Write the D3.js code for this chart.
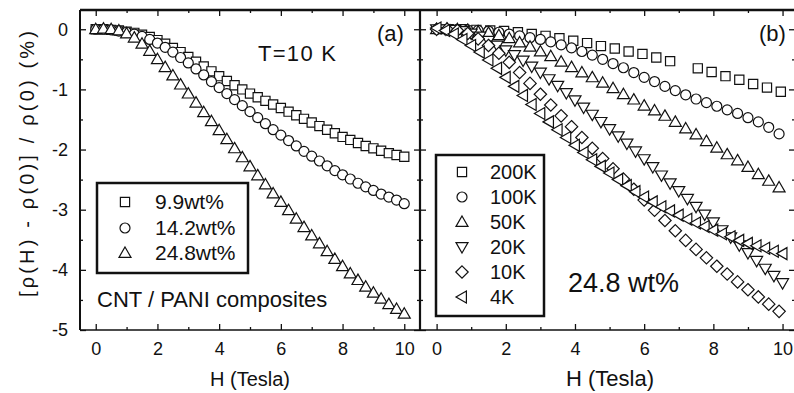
<!DOCTYPE html>
<html>
<head>
<meta charset="utf-8">
<script src="https://cdn.jsdelivr.net/npm/d3@7"></script>
<style>
  body { margin: 0; background: #fff; }
  svg { display: block; }
  text { font-family: "Liberation Sans", Arial, sans-serif; fill: #111; }
</style>
</head>
<body>
<svg id="chart" width="794" height="393"></svg>
<script>
// ---- data: field H (Tesla) and MR in % ----
const hStep25 = [0,0.25,0.5,0.75,1,1.25,1.5,1.75,2,2.25,2.5,2.75,3,3.25,3.5,3.75,4,4.25,4.5,4.75,5,
  5.25,5.5,5.75,6,6.25,6.5,6.75,7,7.25,7.5,7.75,8,8.25,8.5,8.75,9,9.25,9.5,9.75,10];
const hStep30 = [0,0.3,0.6,0.9,1.2,1.5,1.8,2.1,2.4,2.7,3,3.3,3.6,3.9,4.2,4.5,4.8,5.1,5.4,5.7,6,
  6.3,6.6,6.9,7.2,7.5,7.8,8.1,8.4,8.7,9,9.3,9.6,9.9];
const h200K = [0.35,0.75,1.15,1.55,1.95,2.35,2.75,3.15,3.55,3.95,4.35,4.75,5.15,5.55,5.95,6.35,6.75,
  7.55,7.95,8.35,8.75,9.15,9.55,9.95];

// panel (a), T = 10 K
const wt99 = [0,0,-0.01,-0.02,-0.04,-0.06,-0.09,-0.13,-0.18,-0.24,-0.31,-0.38,-0.46,-0.54,-0.62,-0.70,
  -0.78,-0.86,-0.93,-1.00,-1.07,-1.13,-1.19,-1.25,-1.31,-1.37,-1.43,-1.49,-1.55,-1.61,-1.67,-1.73,
  -1.79,-1.84,-1.89,-1.94,-1.98,-2.02,-2.06,-2.09,-2.12];
const wt142 = [0,0,-0.01,-0.03,-0.05,-0.08,-0.12,-0.17,-0.23,-0.30,-0.38,-0.47,-0.56,-0.66,-0.76,-0.87,
  -0.97,-1.07,-1.17,-1.27,-1.37,-1.47,-1.57,-1.67,-1.76,-1.85,-1.94,-2.03,-2.11,-2.19,-2.27,-2.35,
  -2.42,-2.49,-2.56,-2.62,-2.68,-2.74,-2.79,-2.84,-2.90];
const wt248 = [0,0.01,0,-0.02,-0.07,-0.14,-0.24,-0.36,-0.50,-0.63,-0.77,-0.92,-1.07,-1.22,-1.38,-1.53,
  -1.68,-1.83,-1.98,-2.13,-2.28,-2.43,-2.58,-2.73,-2.87,-3.01,-3.15,-3.29,-3.43,-3.56,-3.69,-3.82,
  -3.94,-4.06,-4.17,-4.28,-4.38,-4.48,-4.57,-4.65,-4.73];

// panel (b), 24.8 wt%
const k200 = [0,0,-0.01,-0.02,-0.03,-0.05,-0.08,-0.11,-0.15,-0.19,-0.23,-0.28,-0.32,-0.37,-0.41,-0.47,
  -0.53,-0.65,-0.71,-0.78,-0.84,-0.91,-0.97,-1.04];
const k100 = [0,0,0,-0.01,-0.02,-0.03,-0.05,-0.08,-0.11,-0.14,-0.17,-0.21,-0.26,-0.31,-0.37,-0.43,
  -0.50,-0.57,-0.64,-0.72,-0.80,-0.87,-0.95,-1.02,-1.09,-1.16,-1.22,-1.28,-1.34,-1.40,-1.47,-1.54,
  -1.63,-1.74];
const k50 = [0,0.01,0,-0.01,-0.04,-0.06,-0.10,-0.15,-0.22,-0.29,-0.37,-0.45,-0.54,-0.63,-0.72,-0.80,
  -0.89,-0.98,-1.08,-1.17,-1.27,-1.35,-1.44,-1.54,-1.65,-1.75,-1.86,-1.97,-2.08,-2.18,-2.29,-2.41,
  -2.52,-2.63];
const k20 = [0,0,-0.01,-0.03,-0.07,-0.12,-0.19,-0.27,-0.35,-0.43,-0.52,-0.62,-0.72,-0.83,-0.94,-1.06,
  -1.18,-1.30,-1.42,-1.54,-1.66,-1.78,-1.90,-2.03,-2.16,-2.29,-2.43,-2.56,-2.69,-2.82,-2.95,-3.08,
  -3.21,-3.34,-3.46,-3.59,-3.72,-3.85,-3.98,-4.10,-4.22];
const k10 = [0,0,-0.02,-0.07,-0.16,-0.27,-0.40,-0.55,-0.72,-0.90,-1.08,-1.26,-1.44,-1.62,-1.80,-1.98,
  -2.15,-2.32,-2.49,-2.66,-2.84,-3.01,-3.18,-3.35,-3.51,-3.66,-3.80,-3.94,-4.07,-4.20,-4.33,-4.45,
  -4.57,-4.69];
const k4 = [0.02,-0.02,-0.08,-0.17,-0.27,-0.38,-0.51,-0.65,-0.80,-0.95,-1.10,-1.25,-1.40,-1.54,-1.67,
  -1.80,-1.93,-2.05,-2.17,-2.28,-2.39,-2.50,-2.60,-2.70,-2.79,-2.87,-2.95,-3.02,-3.09,-3.16,-3.22,
  -3.28,-3.34,-3.40,-3.45,-3.51,-3.56,-3.60,-3.64,-3.69,-3.73];

const xMajor = [0, 2, 4, 6, 8, 10];
const xMinor = [1, 3, 5, 7, 9];
const yMajor = [0, -1, -2, -3, -4, -5];
const yMinor = [-0.5, -1.5, -2.5, -3.5, -4.5];

const seriesA = [
  { name: '9.9wt%', shape: 'square', h: hStep25, v: wt99 },
  { name: '14.2wt%', shape: 'circle', h: hStep25, v: wt142 },
  { name: '24.8wt%', shape: 'up', h: hStep25, v: wt248 }
];
const seriesB = [
  { name: '200K', shape: 'square', h: h200K, v: k200 },
  { name: '100K', shape: 'circle', h: hStep30, v: k100 },
  { name: '50K', shape: 'up', h: hStep30, v: k50 },
  { name: '20K', shape: 'down', h: hStep25, v: k20 },
  { name: '10K', shape: 'diamond', h: hStep30, v: k10 },
  { name: '4K', shape: 'left', h: hStep25, v: k4 }
];

// ---- layout ----
const plotTop = 10, plotBottom = 330;
const svg = d3.select('#chart');

const y = d3.scaleLinear().domain([-5, 0.32]).range([plotBottom, plotTop]);
const xA = d3.scaleLinear().domain([-0.51, 10.51]).range([80, 420]);
const xB = d3.scaleLinear().domain([-0.48, 10.36]).range([420, 795]);

function markerPath(shape) {
  switch (shape) {
    case 'square': return 'M-4.6,-4.6H4.6V4.6H-4.6Z';
    case 'circle': return 'M5,0A5,5 0 1,1 -5,0A5,5 0 1,1 5,0Z';
    case 'up': return 'M0,-6L6,4.4L-6,4.4Z';
    case 'down': return 'M0,6L6,-4.4L-6,-4.4Z';
    case 'left': return 'M-6,0L4.4,-6L4.4,6Z';
    case 'diamond': return 'M0,-6.2L6.2,0L0,6.2L-6.2,0Z';
  }
}

function styleAxis(g) {
  g.select('.domain').remove();
  g.selectAll('line').attr('stroke', '#111').attr('stroke-width', 1.3);
  g.selectAll('text').attr('font-size', 18).attr('font-family', null).attr('fill', '#111');
}

function drawAxes(x, left, right, yLabels) {
  svg.append('g').attr('transform', `translate(0,${plotBottom})`)
    .call(d3.axisBottom(x).tickValues(xMajor).tickSize(-6).tickPadding(12).tickFormat(d3.format('d')))
    .call(styleAxis);
  svg.append('g').attr('transform', `translate(0,${plotBottom})`)
    .call(d3.axisBottom(x).tickValues(xMinor).tickSize(-3).tickFormat(''))
    .call(styleAxis);
  svg.append('g').attr('transform', `translate(0,${plotTop})`)
    .call(d3.axisTop(x).tickValues(xMajor).tickSize(-6).tickFormat(''))
    .call(styleAxis);
  svg.append('g').attr('transform', `translate(0,${plotTop})`)
    .call(d3.axisTop(x).tickValues(xMinor).tickSize(-3).tickFormat(''))
    .call(styleAxis);

  svg.append('g').attr('transform', `translate(${left},0)`)
    .call(d3.axisLeft(y).tickValues(yMajor).tickSize(-6).tickPadding(12)
      .tickFormat(yLabels ? (d => String(d)) : ''))
    .call(styleAxis);
  svg.append('g').attr('transform', `translate(${left},0)`)
    .call(d3.axisLeft(y).tickValues(yMinor).tickSize(-3).tickFormat(''))
    .call(styleAxis);
  svg.append('g').attr('transform', `translate(${right},0)`)
    .call(d3.axisRight(y).tickValues(yMajor).tickSize(-6).tickFormat(''))
    .call(styleAxis);
  svg.append('g').attr('transform', `translate(${right},0)`)
    .call(d3.axisRight(y).tickValues(yMinor).tickSize(-3).tickFormat(''))
    .call(styleAxis);
}

function drawSeries(x, series) {
  series.forEach(s => {
    const pts = s.h.map((h, i) => [h, s.v[i]]);
    svg.append('g')
      .selectAll('path')
      .data(pts)
      .join('path')
        .attr('transform', d => `translate(${x(d[0])},${y(d[1])})`)
        .attr('d', markerPath(s.shape))
        .attr('fill', '#fff')
        .attr('stroke', '#111')
        .attr('stroke-width', 1.2);
  });
}

function drawLegend(series, box, mx, tx, rows, fontSize) {
  svg.append('rect')
    .attr('x', box[0]).attr('y', box[1])
    .attr('width', box[2]).attr('height', box[3])
    .attr('fill', '#fff').attr('stroke', '#111').attr('stroke-width', 2.5);
  series.forEach((s, i) => {
    svg.append('path')
      .attr('transform', `translate(${mx},${rows[i]})`)
      .attr('d', markerPath(s.shape))
      .attr('fill', '#fff').attr('stroke', '#111').attr('stroke-width', 1.2);
    svg.append('text')
      .attr('x', tx).attr('y', rows[i] + 7)
      .attr('font-size', fontSize)
      .text(s.name);
  });
}

// ---- draw ----
drawAxes(xA, 80, 420, true);
drawAxes(xB, 420, 795, false);

drawSeries(xA, seriesA);
drawSeries(xB, seriesB);

// frame
svg.append('g')
  .attr('stroke', '#111')
  .selectAll('line')
  .data([
    [80, plotTop, 794, plotTop, 2.6],
    [80, plotTop, 80, plotBottom, 2],
    [420, plotTop, 420, plotBottom, 2.2],
    [80, plotBottom, 794, plotBottom, 1.6]
  ])
  .join('line')
    .attr('x1', d => d[0]).attr('y1', d => d[1])
    .attr('x2', d => d[2]).attr('y2', d => d[3])
    .attr('stroke-width', d => d[4]);

drawLegend(seriesA, [97, 183, 151, 90], 125, 155, [202, 228, 253], 21);
drawLegend(seriesB, [436, 155, 108, 161], 462, 490, [172, 197, 222, 247, 272, 297], 20);

// annotations
svg.append('text').attr('x', 258).attr('y', 61).attr('font-size', 22)
  .attr('textLength', 78).attr('lengthAdjust', 'spacing').text('T=10 K');
svg.append('text').attr('x', 377).attr('y', 41).attr('font-size', 22).text('(a)');
svg.append('text').attr('x', 759).attr('y', 41).attr('font-size', 22).text('(b)');
svg.append('text').attr('x', 97).attr('y', 307).attr('font-size', 22).text('CNT / PANI composites');
svg.append('text').attr('x', 568).attr('y', 292).attr('font-size', 27).text('24.8 wt%');

// axis titles
svg.append('text').attr('x', 250).attr('y', 386).attr('text-anchor', 'middle')
  .attr('font-size', 20).text('H (Tesla)');
svg.append('text').attr('x', 610).attr('y', 386).attr('text-anchor', 'middle')
  .attr('font-size', 22).text('H (Tesla)');
svg.append('text')
  .attr('transform', 'translate(34,164) rotate(-90)')
  .attr('text-anchor', 'middle')
  .attr('font-size', 20)
  .attr('textLength', 266).attr('lengthAdjust', 'spacing')
  .text('[ρ(H) - ρ(0)] / ρ(0)   (%)');
</script>
</body>
</html>
